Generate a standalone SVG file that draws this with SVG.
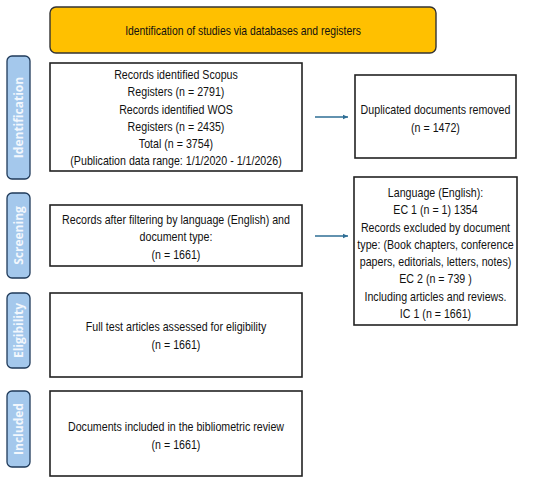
<svg xmlns="http://www.w3.org/2000/svg" width="550" height="482" viewBox="0 0 550 482">
<defs>
<marker id="ah" markerWidth="6" markerHeight="6" refX="5" refY="3" orient="auto" markerUnits="userSpaceOnUse">
<path d="M0,0.8 L5,3 L0,5.2 Z" fill="#2E6E95"/>
</marker>
<style>
.box{fill:#ffffff;stroke:#222222;stroke-width:1.6}
.side{fill:#A4C8EC;stroke:#1F3A5A;stroke-width:1.3}
.st{font-family:"Open Sans","Liberation Sans",sans-serif;font-size:12px;font-weight:bold;fill:#F2F7FD;text-anchor:middle}
.t{font-family:"Liberation Sans",sans-serif;font-size:13px;fill:#111111;text-anchor:middle}
.conn{stroke:#2E6E95;stroke-width:1.6;fill:none}
</style>
</defs>
<rect width="550" height="482" fill="#ffffff"/>
<g id="banner">
<rect x="50" y="7" width="386" height="46" rx="6" fill="#FFC000" stroke="#333333" stroke-width="1.4"/>
<g transform="translate(243 0) scale(0.8 1)"><text class="t" x="0" y="35">Identification of studies via databases and registers</text></g>
</g>
<g id="side-identification">
<rect class="side" x="7" y="56" width="23" height="123" rx="5"/>
<text class="st" transform="translate(22.8,117.5) rotate(-90)">Identification</text>
</g>
<g id="side-screening">
<rect class="side" x="7" y="193" width="23" height="85" rx="5"/>
<text class="st" transform="translate(22.8,235.5) rotate(-90)">Screening</text>
</g>
<g id="side-eligibility">
<rect class="side" x="7" y="293" width="23" height="75" rx="5"/>
<text class="st" transform="translate(22.8,330.5) rotate(-90)">Eligibility</text>
</g>
<g id="side-included">
<rect class="side" x="7" y="391" width="23" height="76" rx="5"/>
<text class="st" transform="translate(22.8,429) rotate(-90)">Included</text>
</g>
<g id="identification">
<rect class="box" x="50" y="63" width="252" height="108"/>
<g transform="translate(176 0) scale(0.82 1)">
<text class="t" x="0" y="79">Records identified Scopus</text>
<text class="t" x="0" y="96.3">Registers (n = 2791)</text>
<text class="t" x="0" y="113.6">Records identified WOS</text>
<text class="t" x="0" y="130.9">Registers (n = 2435)</text>
<text class="t" x="0" y="148.2">Total (n = 3754)</text>
<text class="t" x="0" y="165.5">(Publication data range: 1/1/2020 - 1/1/2026)</text>
</g>
</g>
<g id="duplicates">
<rect class="box" x="355" y="75" width="161" height="83"/>
<g transform="translate(435.5 0) scale(0.82 1)">
<text class="t" x="0" y="114">Duplicated documents removed</text>
<text class="t" x="0" y="132">(n = 1472)</text>
</g>
</g>
<g id="screening">
<rect class="box" x="50" y="205" width="252" height="61"/>
<g transform="translate(176 0) scale(0.82 1)">
<text class="t" x="0" y="224">Records after filtering by language (English) and</text>
<text class="t" x="0" y="241.3">document type:</text>
<text class="t" x="0" y="258.6">(n = 1661)</text>
</g>
</g>
<g id="excluded">
<rect class="box" x="354" y="177" width="163" height="148"/>
<g transform="translate(435.5 0) scale(0.82 1)">
<text class="t" x="0" y="197">Language (English):</text>
<text class="t" x="0" y="214.3">EC 1 (n = 1) 1354</text>
<text class="t" x="0" y="231.6">Records excluded by document</text>
<text class="t" x="0" y="248.9">type: (Book chapters, conference</text>
<text class="t" x="0" y="266.2">papers, editorials, letters, notes)</text>
<text class="t" x="0" y="283.5">EC 2 (n = 739 )</text>
<text class="t" x="0" y="300.8">Including articles and reviews.</text>
<text class="t" x="0" y="318.1">IC 1 (n = 1661)</text>
</g>
</g>
<g id="eligibility">
<rect class="box" x="50" y="293" width="252" height="84"/>
<g transform="translate(176 0) scale(0.82 1)">
<text class="t" x="0" y="331">Full test articles assessed for eligibility</text>
<text class="t" x="0" y="349">(n = 1661)</text>
</g>
</g>
<g id="included">
<rect class="box" x="50" y="391" width="252" height="85"/>
<g transform="translate(176 0) scale(0.82 1)">
<text class="t" x="0" y="431">Documents included in the bibliometric review</text>
<text class="t" x="0" y="449">(n = 1661)</text>
</g>
</g>
<g id="connectors">
<line class="conn" x1="315" y1="117" x2="348" y2="117" marker-end="url(#ah)"/>
<line class="conn" x1="315" y1="236" x2="348" y2="236" marker-end="url(#ah)"/>
</g>
</svg>
